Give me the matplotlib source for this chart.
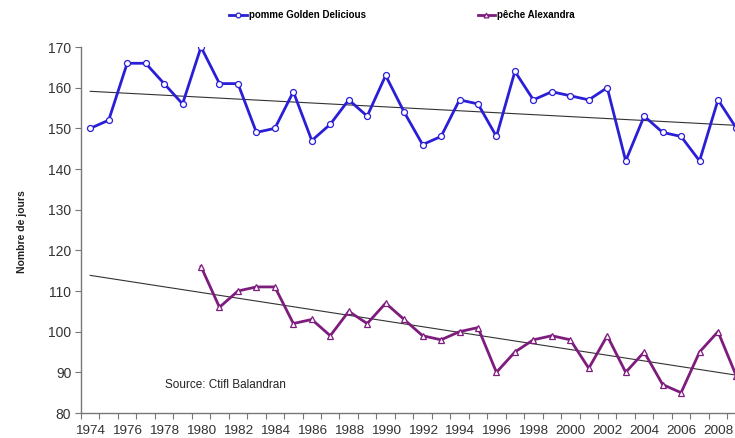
import numpy as np
import matplotlib
matplotlib.use("Agg")
import matplotlib.pyplot as plt
from matplotlib.ticker import MultipleLocator, FixedLocator

years_apple = list(range(1974, 2010))
apple = [150, 152, 166, 166, 161, 156, 170, 161, 161, 149, 150, 159, 147, 151,
         157, 153, 163, 154, 146, 148, 157, 156, 148, 164, 157, 159, 158, 157,
         160, 142, 153, 149, 148, 142, 157, 150]
years_peach = list(range(1980, 2010))
peach = [116, 106, 110, 111, 111, 102, 103, 99, 105, 102, 107, 103, 99, 98,
         100, 101, 90, 95, 98, 99, 98, 91, 99, 90, 95, 87, 85, 95, 100, 89]
label_apple = "pomme Golden Delicious"
label_peach = "pêche Alexandra"
ylabel = "Nombre de jours"
source = "Source: Ctifl Balandran"
xtick_labels = list(range(1974, 2010, 2))

plt.rcParams['font.family'] = ['Liberation Sans', 'DejaVu Sans']

W, H = 735, 438
fig = plt.figure(figsize=(W / 100, H / 100), dpi=100)
left, right, bottom, top = 81, 735, 413, 47
ax = fig.add_axes([left / W, 1 - bottom / H, (right - left) / W, (bottom - top) / H])

c_apple = "#2A1ED6"
c_peach = "#7E1C7E"

ax.plot(years_apple, apple, color=c_apple, lw=2.0, marker='o', ms=4.3,
        mfc='white', mec=c_apple, mew=0.9, label=label_apple, zorder=3)
ax.plot(years_peach, peach, color=c_peach, lw=2.0, marker='^', ms=4.3,
        mfc='white', mec=c_peach, mew=0.9, label=label_peach, zorder=3)

xfull = np.array([1974, 2009])
pa = np.polyfit(years_apple, apple, 1)
pp = np.polyfit(years_peach, peach, 1)
ax.plot(xfull, np.polyval(pa, xfull), color='#333333', lw=0.8, zorder=2)
ax.plot(xfull, np.polyval(pp, xfull), color='#333333', lw=0.8, zorder=2)

ax.set_xlim(1973.5, 2008.92)
ax.set_ylim(80, 170)
ax.yaxis.set_major_locator(MultipleLocator(10))
ax.set_xticks(xtick_labels)
ax.set_xticklabels([str(y) for y in xtick_labels])
ax.xaxis.set_minor_locator(FixedLocator(np.arange(1973.5, 2010, 1)))
ax.tick_params(axis='x', which='major', length=0, pad=8.5, labelsize=9.7, labelcolor='#333333')
ax.tick_params(axis='x', which='minor', length=4, width=0.8, color='#777777', direction='out')
ax.tick_params(axis='y', which='major', length=4, width=0.8, color='#777777', direction='out',
               labelsize=10, labelcolor='#333333', pad=3)

for s in ['top', 'right']:
    ax.spines[s].set_visible(False)
for s in ['left', 'bottom']:
    ax.spines[s].set_color('#777777')
    ax.spines[s].set_linewidth(1.0)

fig.text(22 / W, 1 - 232 / H, ylabel, rotation=90, ha='center', va='center',
         fontsize=7.5, fontweight='bold', color='#222222')
ax.text(1978.05, 87.0, source, fontsize=8.5, color='#222222', ha='left', va='center')

leg = fig.legend(loc='center', bbox_to_anchor=(0.547, 1 - 15 / H), ncol=2, frameon=False,
                 prop={'weight': 'bold', 'size': 7}, handlelength=1.8,
                 columnspacing=11.5, handletextpad=0.2, markerscale=0.8)

fig.savefig("out.png", dpi=100)
